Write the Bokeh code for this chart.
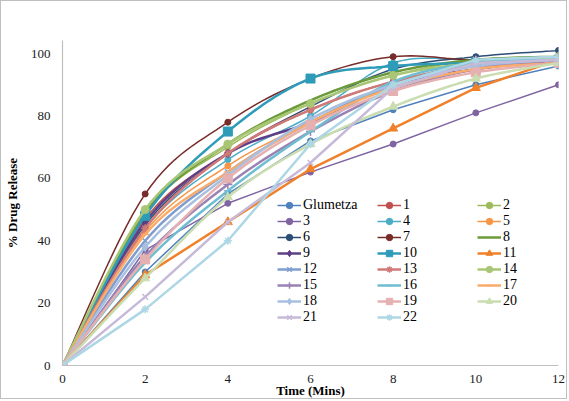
from bokeh.plotting import figure
from bokeh.models import Legend, LegendItem, Range1d, FixedTicker
from bokeh.embed import file_html
from bokeh.resources import INLINE

# ---- data ----
time_mins = [0, 2, 4, 6, 8, 10, 12]
series_names = ["Glumetza", "1", "2", "3", "4", "5", "6", "7", "8", "9", "10", "11",
                "12", "13", "14", "15", "16", "17", "18", "19", "20", "21", "22"]
glumetza = [0, 30, 55, 72, 82, 90, 96]
f1 = [0, 47, 68, 82, 91, 96, 98]
f2 = [0, 49, 70, 84, 93, 98, 99]
f3 = [0, 37, 52, 62, 71, 81, 90]
f4 = [0, 44, 66, 80, 97, 98, 99]
f5 = [0, 43, 64, 78, 90, 96, 98]
f6 = [0, 45, 68, 83, 95, 99, 101]
f7 = [0, 55, 78, 92, 99, 98, 99]
f8 = [0, 49, 71, 85, 94, 98, 99]
f9 = [0, 46, 68, 78, 90, 95, 98]
f10 = [0, 48, 75, 92, 96, 97, 98]
f11 = [0, 29, 46, 63, 76, 89, 98]
f12 = [0, 40, 62, 78, 90, 97, 98]
f13 = [0, 44, 68, 82, 91, 96, 98]
f14 = [0, 50, 71, 84, 93, 97, 99]
f15 = [0, 35, 58, 75, 88, 95, 98]
f16 = [0, 33, 56, 75, 91, 97, 98]
f17 = [0, 42, 62, 78, 89, 95, 97]
f18 = [0, 38, 61, 79, 90, 96, 98]
f19 = [0, 34, 60, 77, 88, 94, 97]
f20 = [0, 28, 54, 71, 83, 92, 97]
f21 = [0, 22, 46, 65, 89, 97, 98]
f22 = [0, 18, 40, 71, 90, 98, 99]
series_values = [glumetza, f1, f2, f3, f4, f5, f6, f7, f8, f9, f10, f11,
                 f12, f13, f14, f15, f16, f17, f18, f19, f20, f21, f22]
x_ticks = [0, 2, 4, 6, 8, 10, 12]
y_ticks = [0, 20, 40, 60, 80, 100]

# ---- styles ----
colors = ["#4F81BD", "#C0504D", "#9BBB59", "#8064A2", "#4BACC6", "#F79646",
          "#2C4D75", "#772C2A", "#6A9A3A", "#5E3F86", "#2E9BB8", "#F0812A",
          "#7F9ED0", "#D07A78", "#A9C675", "#9983B5", "#6FBDD1", "#F9AB6B",
          "#A9BFE0", "#E5B0AF", "#C9DDB0", "#C6BAD8", "#AED7E5"]
markers = ["circle"] * 8 + [None, "diamond", "square", "triangle", "x", "asterisk",
                            "circle", "cross", "dash", "dash", "diamond", "square",
                            "triangle", "x", "asterisk"]
msizes = [6] * 8 + [0, 9, 9, 9, 8, 8, 8, 9, 8, 8, 9, 9, 9, 8, 8]
lwidths = [1.5] * 8 + [2.5] * 15
smooth = [False, True, True, False, True, True, True, True, True, True, True, False,
          True, True, True, True, True, True, True, True, True, False, False]


def bezier_path(xs, ys, n=14):
    """Excel-like smoothed path through the data points (drawing only)."""
    px, py = [xs[0]], [ys[0]]
    m = len(xs)
    for i in range(m - 1):
        x0, y0 = (xs[i - 1], ys[i - 1]) if i > 0 else (xs[i], ys[i])
        x1, y1 = xs[i], ys[i]
        x2, y2 = xs[i + 1], ys[i + 1]
        x3, y3 = (xs[i + 2], ys[i + 2]) if i + 2 < m else (x2, y2)
        c1x, c1y = x1 + (x2 - x0) / 6, y1 + (y2 - y0) / 6
        c2x, c2y = x2 - (x3 - x1) / 6, y2 - (y3 - y1) / 6
        for k in range(1, n + 1):
            t = k / n
            a, b, c, d = (1 - t) ** 3, 3 * (1 - t) ** 2 * t, 3 * (1 - t) * t ** 2, t ** 3
            px.append(a * x1 + b * c1x + c * c2x + d * x2)
            py.append(a * y1 + b * c1y + c * c2y + d * y2)
    return px, py


FONT = "'Liberation Serif', 'Times New Roman', serif"

p = figure(width=567, height=399, output_backend="svg", toolbar_location=None,
           x_range=Range1d(0, 12), y_range=Range1d(0, 104.2),
           min_border_left=60, min_border_right=10, min_border_top=39, min_border_bottom=34)
p.styles = {"border": "1px solid #BFBFBF"}
p.outline_line_color = None
p.xgrid.visible = False
p.ygrid.visible = False

for ax in (p.xaxis[0], p.yaxis[0]):
    ax.axis_line_color = "#BFBFBF"
    ax.axis_line_width = 1.2
    ax.major_tick_line_color = None
    ax.minor_tick_line_color = None
    ax.major_tick_out = 0
    ax.major_tick_in = 0
    ax.minor_tick_out = 0
    ax.minor_tick_in = 0
    ax.major_label_text_font = FONT
    ax.major_label_text_font_size = "13px"
    ax.major_label_text_color = "#1a1a1a"
    ax.axis_label_text_font = FONT
    ax.axis_label_text_font_size = "13px"
    ax.axis_label_text_font_style = "bold"
    ax.axis_label_text_color = "#000000"

p.xaxis.ticker = FixedTicker(ticks=x_ticks)
p.yaxis.ticker = FixedTicker(ticks=y_ticks)
p.xaxis.axis_label = "Time (Mins)"
p.yaxis.axis_label = "% Drug Release"
p.xaxis.major_label_standoff = 9
p.xaxis.axis_label_standoff = -3
p.yaxis.major_label_standoff = 12
p.yaxis.axis_label_standoff = 8

items = []
for name, vals, col, mk, ms, lw, sm in zip(series_names, series_values, colors, markers,
                                            msizes, lwidths, smooth):
    if sm:
        lx, ly = bezier_path(time_mins, vals)
    else:
        lx, ly = time_mins, vals
    rends = [p.line(lx, ly, line_color=col, line_width=lw)]
    if mk is not None:
        if mk in ("x", "asterisk", "cross", "dash"):
            r = p.scatter(time_mins, vals, marker=mk, size=ms, line_color=col, line_width=1.5,
                          fill_color=col)
        else:
            r = p.scatter(time_mins, vals, marker=mk, size=ms, line_color=col, fill_color=col)
        rends.append(r)
    items.append(LegendItem(label=name, renderers=rends))

legend = Legend(items=items, orientation="horizontal", ncols=3, location=(215, 40),
                glyph_width=24, glyph_height=16, label_height=16, label_width=74,
                label_standoff=2, spacing=0, padding=0, margin=0,
                label_text_font=FONT, label_text_font_size="14px",
                label_text_color="#000000", border_line_color=None,
                background_fill_alpha=0)
p.add_layout(legend, "center")

open("out.html", "w").write(file_html(p, INLINE))
